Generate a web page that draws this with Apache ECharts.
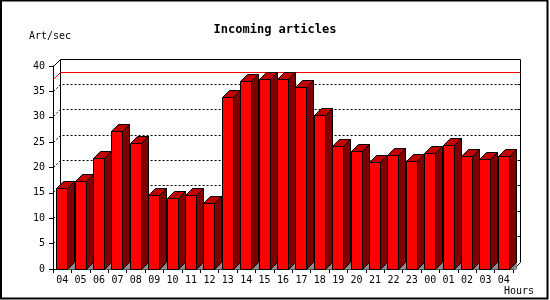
<!DOCTYPE html>
<html>
<head>
<meta charset="utf-8">
<script src="https://cdn.jsdelivr.net/npm/echarts@6/dist/echarts.min.js"></script>
<style>html,body{margin:0;padding:0;background:#fff}#c{width:550px;height:300px}</style>
</head>
<body>
<div id="c"></div>
<script>
const hours = ['04','05','06','07','08','09','10','11','12','13','14','15','16','17','18','19','20','21','22','23','00','01','02','03','04'];
const articlesPerSec = [15.8,17.2,21.8,27.1,24.7,14.5,13.9,14.5,13.0,33.8,37.0,37.4,37.4,35.8,30.3,24.2,23.2,20.9,22.4,21.2,22.8,24.3,22.2,21.6,22.2];
const yTicks = [0,5,10,15,20,25,30,35,40];

const FONT = 'DejaVu Sans Mono';
const D = 7; // 3D depth offset in px
const maxVal = Math.max.apply(null, articlesPerSec);
const px = v => Math.round(v - 0.5) + 0.5; // snap to crisp pixel lines

const chart = echarts.init(document.getElementById('c'), null, {renderer: 'canvas'});

function frameItem(params, api) {
  const cs = params.coordSys;
  const L = px(cs.x), R = px(cs.x + cs.width);
  const y0 = px(api.coord([0, 0])[1]);
  const yTop = px(api.coord([0, yTicks[yTicks.length - 1]])[1]);
  const ch = [];
  const blk = {stroke: '#000', lineWidth: 1};
  ch.push({type: 'polyline', shape: {points: [[L + D, y0 - D], [L + D, yTop - D], [R + D, yTop - D], [R + D, y0 - D], [R, y0]]}, style: Object.assign({fill: null}, blk)});
  ch.push({type: 'line', shape: {x1: L, y1: yTop, x2: L + D, y2: yTop - D}, style: blk});
  yTicks.slice(1, -1).forEach(v => {
    const y = px(api.coord([0, v])[1]);
    ch.push({type: 'polyline', shape: {points: [[L, y], [L + D, y - D], [R + D, y - D]]}, style: {stroke: '#000', lineWidth: 1, lineDash: [2, 2], fill: null}});
    ch.push({type: 'line', shape: {x1: R + D - 3, y1: y - D, x2: R + D, y2: y - D}, style: blk});
  });
  const ym = px(api.coord([0, maxVal])[1]);
  ch.push({type: 'polyline', shape: {points: [[L, ym], [L + D, ym - D], [R + D, ym - D]]}, style: {stroke: '#ee0000', lineWidth: 1, fill: null}});
  return {type: 'group', children: ch};
}

function barItem(params, api) {
  const idx = api.value(0);
  const val = api.value(1);
  const top = api.coord([idx, val]);
  const base = api.coord([idx, 0]);
  const band = api.size([1, 0])[0];
  const w = band * 0.6;
  const xl = px(top[0] - w / 2), xr = px(top[0] + w / 2);
  const yt = px(top[1]), yb = px(base[1]);
  const stroke = {stroke: '#000', lineWidth: 1, lineJoin: 'miter'};
  return {
    type: 'group',
    children: [
      {type: 'polygon', shape: {points: [[xr, yb], [xr + D, yb - D], [xr + D, yb]]}, style: {fill: '#8c8c8c', stroke: '#5a5a5a', lineWidth: 0.5}},
      {type: 'polygon', shape: {points: [[xr, yt], [xr + D, yt - D], [xr + D, yb - D], [xr, yb]]}, style: Object.assign({fill: '#800000'}, stroke)},
      {type: 'polygon', shape: {points: [[xl, yt], [xl + D, yt - D], [xr + D, yt - D], [xr, yt]]}, style: Object.assign({fill: '#c00000'}, stroke)},
      {type: 'rect', shape: {x: xl, y: yt, width: xr - xl, height: yb - yt}, style: Object.assign({fill: '#ff0000'}, stroke)}
    ]
  };
}

chart.setOption({
  animation: false,
  backgroundColor: '#fff',
  title: {
    text: 'Incoming articles', left: 'center', top: 19,
    textStyle: {fontFamily: FONT, fontSize: 12, fontWeight: 'bold', color: '#000'}
  },
  graphic: [
    {type: 'rect', shape: {x: 1, y: 0.5, width: 546.5, height: 298}, style: {fill: null, stroke: '#000', lineWidth: 2}, silent: true},
    {type: 'text', left: 29, top: 31, style: {text: 'Art/sec', font: '10px "DejaVu Sans Mono"', fill: '#000'}},
    {type: 'text', left: 504, top: 286, style: {text: 'Hours', font: '10px "DejaVu Sans Mono"', fill: '#000'}}
  ],
  grid: {left: 53, right: 37, top: 66, bottom: 31},
  xAxis: {
    type: 'category', data: hours,
    axisLine: {lineStyle: {color: '#000', width: 1}},
    axisTick: {show: true, length: 4, lineStyle: {color: '#000'}},
    axisLabel: {interval: 0, margin: 6, color: '#000', fontFamily: FONT, fontSize: 10},
    splitLine: {show: false}
  },
  yAxis: {
    type: 'value', min: 0, max: 40, interval: 5,
    axisLine: {show: true, lineStyle: {color: '#000', width: 1}},
    axisTick: {show: true, length: 4, lineStyle: {color: '#000'}},
    axisLabel: {margin: 8, color: '#000', fontFamily: FONT, fontSize: 10, formatter: v => yTicks.indexOf(v) >= 0 ? String(v) : ''},
    splitLine: {show: false}
  },
  series: [
    {type: 'custom', silent: true, z: 1, clip: false, renderItem: frameItem, data: [[0, 0]]},
    {type: 'custom', silent: true, z: 2, clip: false, renderItem: barItem,
     encode: {x: 0, y: 1},
     data: articlesPerSec.map((v, i) => [i, v])}
  ]
});
</script>
</body>
</html>
